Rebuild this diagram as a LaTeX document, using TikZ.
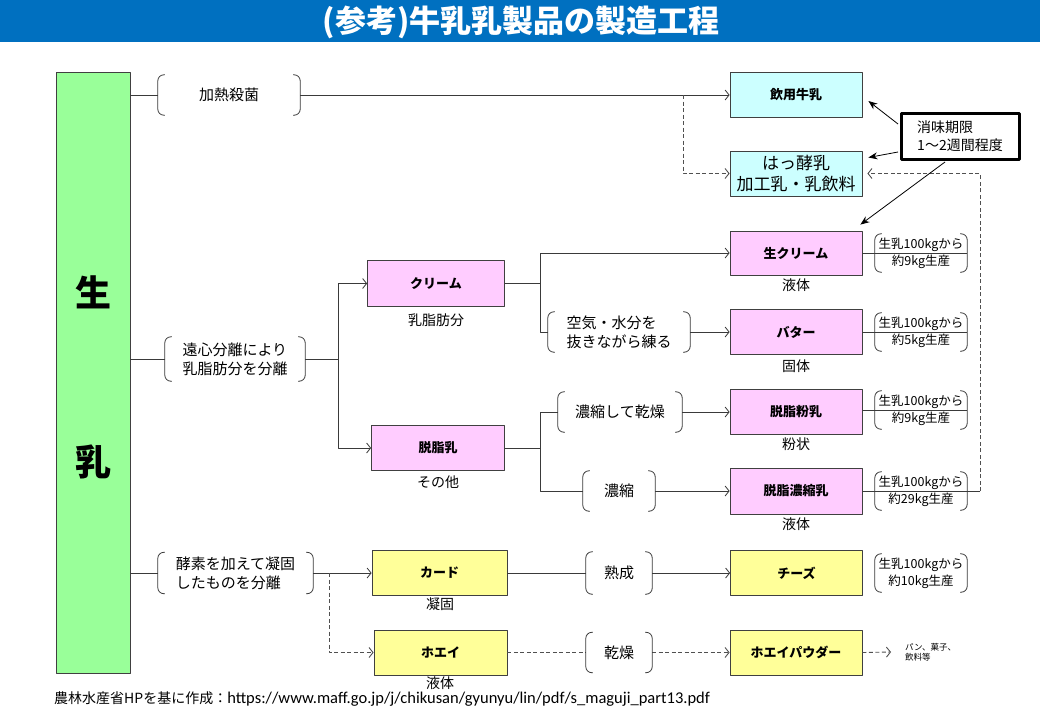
\documentclass[tikz,border=0pt]{standalone}
\usepackage{fontspec}
\setmainfont{Noto Sans CJK JP}
\newfontfamily\urlfont{Carlito}
\usetikzlibrary{arrows.meta,calc}
\definecolor{titleblue}{HTML}{0070C0}
\definecolor{barg}{HTML}{99FF99}
\definecolor{pinkc}{HTML}{FFCCFF}
\definecolor{yelc}{HTML}{FFFF99}
\definecolor{cyanc}{HTML}{CCFFFF}
\definecolor{linec}{HTML}{3A3A3A}
\definecolor{dashc}{HTML}{505050}
\definecolor{boxline}{HTML}{404040}
\newcommand\fsz[2]{\fontsize{#1}{#2}\selectfont}
\tikzset{
  conn/.style={draw=linec, line width=0.8pt},
  arr/.style={-{Straight Barb[length=4pt,width=10pt]}},
  dconn/.style={draw=dashc, line width=0.9pt, dash pattern=on 4pt off 2.5pt},
  prodbox/.style={draw=boxline, line width=0.8pt, minimum width=132pt, minimum height=45pt, inner sep=0pt, font=\bfseries\fsz{13}{15}},
  pinkbox/.style={prodbox, fill=pinkc},
  yelbox/.style={prodbox, fill=yelc},
  cyanbox/.style={prodbox, fill=cyanc},
  brk/.style={inner sep=0pt, align=center, font=\fsz{15}{19}},
  brkline/.style={draw=linec, line width=0.8pt, rounded corners=6pt},
  lbl/.style={font=\fsz{14}{16}, inner sep=0pt},
  note/.style={inner sep=0pt, minimum width=92pt, minimum height=38pt, align=center, font=\fsz{12.5}{17}},
  big/.style={font=\bfseries\fsz{36}{40}},
  calloutarr/.style={draw=black, line width=0.8pt, -{Stealth[length=9pt,width=7pt]}}
}
\newcommand\brkt[1]{%
  \draw[brkline] ([xshift=7pt]#1.north west) -- (#1.north west) -- (#1.south west) -- ([xshift=7pt]#1.south west);
  \draw[brkline] ([xshift=-7pt]#1.north east) -- (#1.north east) -- (#1.south east) -- ([xshift=-7pt]#1.south east);}
\begin{document}
\begin{tikzpicture}[x=1pt,y=-1pt, line join=round]
\useasboundingbox (0,0) rectangle (1040,720);
\fill[white] (0,0) rectangle (1040,720);
\fill[titleblue] (0,0) rectangle (1040,42);
\node[text=white, font=\bfseries\fsz{31}{34}] (title) at (521,22) {(参考)牛乳乳製品の製造工程};

% raw milk bar
\node[draw=boxline, line width=0.8pt, fill=barg, minimum width=74pt, minimum height=601pt, inner sep=0pt] (bar) at (93,372.5) {};
\node[big] (sei) at (93,292) {生};
\node[big] (nyu) at (93,462) {乳};

% branch 1
\node[brk, minimum width=142pt, minimum height=40pt] (b1) at (229,95) {加熱殺菌};
\node[cyanbox] (drink) at (796,95) {飲用牛乳};
\node[cyanbox, font=\fsz{17}{21}, align=center] (ferm) at (796,173.5) {はっ酵乳\\加工乳・乳飲料};
\draw[conn] (bar.east |- b1.west) -- (b1.west);
\draw[conn,arr] (b1.east) -- (drink.west);
\coordinate (s1) at (683,95);
\draw[dconn,arr] (s1) |- (ferm.west);

% branch 2
\node[brk, align=left, minimum width=140pt, minimum height=44pt] (b2) at (235,359) {遠心分離により\\乳脂肪分を分離};
\draw[conn] (bar.east |- b2.west) -- (b2.west);
\coordinate (j2) at (338,359);
\draw[conn] (b2.east) -- (j2);
\node[pinkbox, minimum width=137pt, minimum height=46pt] (cream) at (436,283.5) {クリーム};
\node[pinkbox, minimum width=133pt] (skim) at (438,448) {脱脂乳};
\node[lbl] (creaml) at (436,320) {乳脂肪分};
\node[lbl] (skiml) at (438,482) {その他};
\draw[conn,arr] (j2) |- (cream.west);
\draw[conn,arr] (j2) |- (skim.west);

\coordinate (j3) at (540,283.5);
\draw[conn] (cream.east) -- (j3);
\node[pinkbox, minimum height=44pt] (kcream) at (796,253) {生クリーム};
\node[brk, align=left, minimum width=142pt, minimum height=40pt] (b3) at (619,332) {空気・水分を\\抜きながら練る};
\node[pinkbox] (butter) at (796,332) {バター};
\draw[conn,arr] (j3) |- (kcream.west);
\draw[conn] (j3) |- (b3.west);
\draw[conn,arr] (b3.east) -- (butter.west);

\coordinate (j4) at (540,448);
\draw[conn] (skim.east) -- (j4);
\node[brk, minimum width=124pt, minimum height=40pt] (b4) at (620,412) {濃縮して乾燥};
\node[pinkbox] (powder) at (796,412) {脱脂粉乳};
\node[brk, minimum width=72pt, minimum height=40pt] (b5) at (619,491) {濃縮};
\node[pinkbox, minimum height=46pt] (cond) at (796,491) {脱脂濃縮乳};
\draw[conn] (j4) |- (b4.west);
\draw[conn] (j4) |- (b5.west);
\draw[conn,arr] (b4.east) -- (powder.west);
\draw[conn,arr] (b5.east) -- (cond.west);

\node[lbl] (kcreaml) at (796,285) {液体};
\node[lbl] (butterl) at (796,366) {固体};
\node[lbl] (powderl) at (796,444) {粉状};
\node[lbl] (condl) at (796,524) {液体};

% yield notes
\node[note] (n1) at (921,253) {生乳100kgから\\約9kg生産};
\node[note] (n2) at (921,332) {生乳100kgから\\約5kg生産};
\node[note] (n3) at (921,410) {生乳100kgから\\約9kg生産};
\node[note] (n4) at (921,491) {生乳100kgから\\約29kg生産};
\node[note] (n5) at (921,573) {生乳100kgから\\約10kg生産};
\draw[conn] (kcream.east) -- (n1.east);
\draw[conn] (butter.east) -- (n2.east);
\draw[conn] (powder.east |- n3.east) -- (n3.east);
\coordinate (ret) at (980,491);
\draw[conn] (cond.east) -- (ret);
\foreach \n in {n1,n2,n3,n4,n5}{\brkt{\n}}
\draw[dconn,arr,shorten >=5pt] (ret) |- (ferm.east);

% branch 3
\node[brk, align=left, minimum width=155pt, minimum height=41pt] (b6) at (235.5,573) {酵素を加えて凝固\\したものを分離};
\draw[conn] (bar.east |- b6.west) -- (b6.west);
\node[yelbox, minimum width=135pt] (curd) at (439.5,573) {カード};
\node[yelbox, minimum width=133pt] (whey) at (440.5,652.5) {ホエイ};
\draw[conn,arr] (b6.east) -- (curd.west);
\coordinate (j6) at (329,573);
\draw[dconn,arr] (j6) |- (whey.west);
\node[lbl] (curdl) at (440,604) {凝固};
\node[lbl] (wheyl) at (440,683) {液体};

\node[brk, minimum width=66pt, minimum height=42pt] (b7) at (619,573) {熟成};
\node[yelbox] (cheese) at (796.5,573) {チーズ};
\draw[conn] (curd.east) -- (b7.west);
\draw[conn,arr] (b7.east) -- (cheese.west);

\node[brk, minimum width=66pt, minimum height=40pt] (b8) at (619,652.5) {乾燥};
\node[yelbox] (wpow) at (796,652.5) {ホエイパウダー};
\draw[dconn] (whey.east) -- (b8.west);
\draw[dconn,arr] (b8.east) -- (wpow.west);
\node[anchor=west, align=left, inner sep=0pt, font=\fsz{8.5}{10}] (uses) at (905,652) {パン、菓子、\\飲料等};
\draw[dconn,arr] (wpow.east) -- ($(uses.west)+(-14,0)$);

\foreach \b in {b1,b2,b3,b4,b5,b6,b7,b8}{\brkt{\b}}

% callout
\node[draw=black, line width=3pt, fill=white, minimum width=118pt, minimum height=46pt, align=left, font=\fsz{14}{18}, inner sep=0pt] (callout) at (960,136) {消味期限\\1〜2週間程度};
\draw[calloutarr] ($(callout.west)+(-1.5,-12)$) -- ($(drink.east)+(6,6)$);
\draw[calloutarr] ($(callout.west)+(-1.5,16)$) -- ($(ferm.east)+(6,-16)$);
\draw[calloutarr] ($(callout.south)+(-15,1.5)$) -- ($(kcream.north east)+(-2,-6)$);

% footer
\node[anchor=west, inner sep=0pt, font=\fsz{14}{16}] (foot) at (54,699) {農林水産省HPを基に作成：{\urlfont\fsz{16.5}{18}https://www.maff.go.jp/j/chikusan/gyunyu/lin/pdf/s\_maguji\_part13.pdf}};
\end{tikzpicture}
\end{document}
